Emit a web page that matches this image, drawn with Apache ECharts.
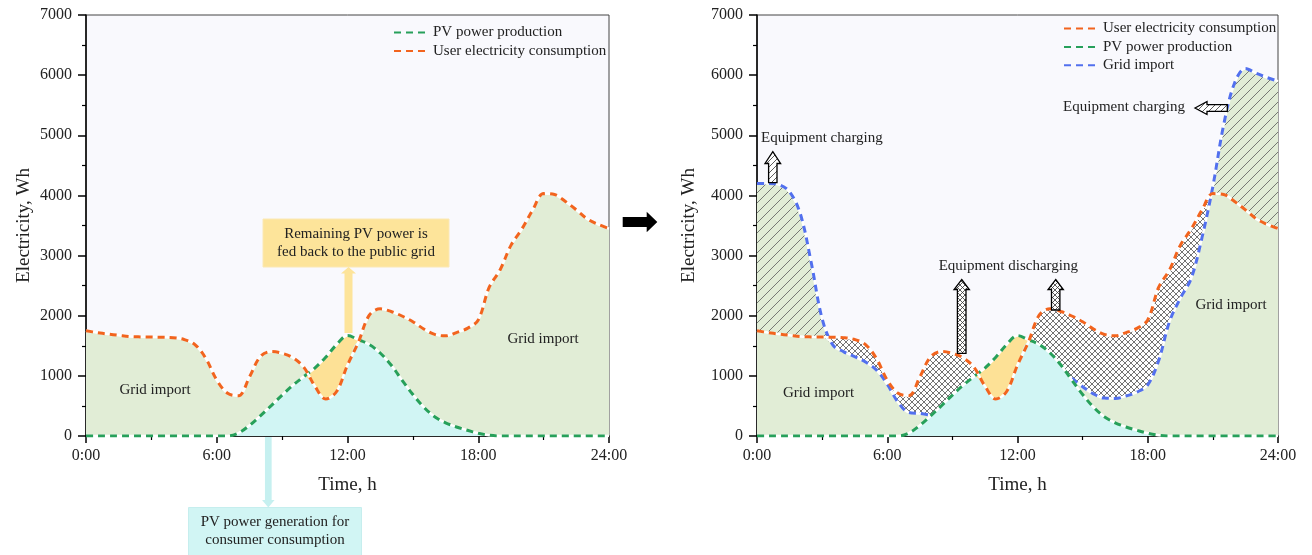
<!DOCTYPE html>
<html>
<head>
<meta charset="utf-8">
<script src="https://cdn.jsdelivr.net/npm/echarts@6/dist/echarts.min.js"></script>
<style>
  html, body { margin: 0; padding: 0; background: #fff; }
  #chart { width: 1312px; height: 555px; }
</style>
</head>
<body>
<div id="chart"></div>
<script>
// Half-hourly profile over one day (hours)
const hours = [0, 0.5, 1, 1.5, 2, 2.5, 3, 3.5, 4, 4.5, 5, 5.5, 6, 6.5, 7, 7.5, 8, 8.5, 9, 9.5,
  10, 10.5, 11, 11.5, 12, 12.5, 13, 13.5, 14, 14.5, 15, 15.5, 16, 16.5, 17, 17.5, 18, 18.5, 19, 19.5,
  20, 20.5, 21, 21.5, 22, 22.5, 23, 23.5, 24];

// User electricity consumption, Wh
const consumption = [1750, 1720, 1695, 1675, 1655, 1648, 1645, 1642, 1635, 1605, 1520, 1290, 930, 710, 670, 980, 1320, 1405, 1375, 1300,
  1140, 830, 615, 740, 1180, 1560, 2010, 2115, 2070, 1995, 1900, 1780, 1690, 1665, 1720, 1790, 1930, 2470, 2760, 3170,
  3440, 3760, 4030, 4015, 3900, 3760, 3610, 3520, 3450];

// PV power production, Wh
const pvProduction = [0, 0, 0, 0, 0, 0, 0, 0, 0, 0, 0, 0, 0, 0, 50, 175, 335, 505, 680, 845,
  990, 1130, 1310, 1520, 1670, 1600, 1520, 1380, 1180, 930, 690, 480, 320, 220, 150, 95, 45, 12, 0, 0,
  0, 0, 0, 0, 0, 0, 0, 0, 0];

// Grid import with storage operating, Wh (not drawn while it runs along the PV curve)
const gridImport = [4200, 4200, 4180, 4060, 3690, 2880, 1950, 1510, 1400, 1320, 1230, 1100, 860, 560, 390, 375, 345, null, null, null,
  null, null, null, null, null, null, null, null, null, 960, 820, 700, 630, 625, 665, 730, 850, 1250, 1900, 2290,
  2620, 3300, 4150, 5180, 5870, 6110, 6030, 5960, 5900];

const timeTickLabels = ['0:00', '6:00', '12:00', '18:00', '24:00'];
const valueTicks = [0, 1000, 2000, 3000, 4000, 5000, 6000, 7000];

const FONT = '"Liberation Serif", "Times New Roman", serif';
const TEXT = '#222';
const C_ORANGE = '#f2641e';
const C_GREEN = '#27a05a';
const C_BLUE = '#5270ee';
const F_GRID = '#e1edd6';
const F_CYAN = '#d1f5f4';
const F_YELLOW = '#fde196';
const PLOT_BG = '#f9f9fd';

function makePattern(bg, size, cross, stroke, lw) {
  const c = document.createElement('canvas');
  c.width = size; c.height = size;
  const g = c.getContext('2d');
  g.fillStyle = bg; g.fillRect(0, 0, size, size);
  g.strokeStyle = stroke; g.lineWidth = lw;
  g.beginPath();
  for (let k = -1; k <= 1; k++) {
    g.moveTo(k * size, size); g.lineTo(k * size + size, 0);
    if (cross) { g.moveTo(k * size, 0); g.lineTo(k * size + size, size); }
  }
  g.stroke();
  return { image: c, repeat: 'repeat' };
}

const hatchGreen = makePattern(F_GRID, 10, false, '#5a5a5a', 0.8);
const crossWhite = makePattern('#ffffff', 6, true, '#454545', 0.75);
const hatchWhite = makePattern('#ffffff', 6, false, '#333', 0.8);
const crossArrow = makePattern('#ffffff', 5, true, '#333', 0.8);

const pair = arr => hours.map((h, i) => [h, arr[i]]);
const SMOOTH = 0.35;

function fill(grid, values, color, z) {
  return {
    type: 'line', xAxisIndex: grid, yAxisIndex: grid, data: pair(values),
    smooth: SMOOTH, symbol: 'none', silent: true, z: z,
    lineStyle: { width: 0, opacity: 0 },
    areaStyle: { color: color, opacity: 1 }
  };
}
function line(grid, name, values, color, z) {
  return [
    { type: 'line', xAxisIndex: grid, yAxisIndex: grid, data: pair(values), smooth: SMOOTH,
      symbol: 'none', silent: true, z: z, lineStyle: { color: '#ffffff', width: 2.4 } },
    { type: 'line', name: name, xAxisIndex: grid, yAxisIndex: grid, data: pair(values), smooth: SMOOTH,
      symbol: 'none', silent: true, z: z + 1, itemStyle: { color: color },
      lineStyle: { color: color, width: 3, type: [7, 5] } }
  ];
}

// fill boundaries built from the series above
const pvUnderLoad = consumption.map((c, i) => Math.min(c, pvProduction[i]));
const importTop = gridImport.map((g, i) => g == null ? pvProduction[i] : g);
const importUnderLoad = gridImport.map((g, i) => g == null ? pvProduction[i] : Math.min(g, consumption[i]));

const series = [
  // left panel
  fill(0, consumption, F_GRID, 1),
  fill(0, pvProduction, F_YELLOW, 1),
  fill(0, pvUnderLoad, F_CYAN, 1),
  ...line(0, 'PV power production', pvProduction, C_GREEN, 3),
  ...line(0, 'User electricity consumption', consumption, C_ORANGE, 5),
  // right panel
  fill(1, importTop, hatchGreen, 1),
  fill(1, consumption, crossWhite, 1),
  fill(1, importUnderLoad, F_GRID, 1),
  fill(1, pvProduction, F_YELLOW, 1),
  fill(1, pvUnderLoad, F_CYAN, 1),
  ...line(1, 'Grid import', gridImport, C_BLUE, 3),
  ...line(1, 'PV power production', pvProduction, C_GREEN, 5),
  ...line(1, 'User electricity consumption', consumption, C_ORANGE, 7)
];

const grids = [
  { left: 86, top: 15, width: 523, height: 421 },
  { left: 757, top: 15, width: 521, height: 421 }
];

function xAxis(i) {
  return {
    type: 'value', gridIndex: i, min: 0, max: 24, interval: 6,
    axisLine: { show: true, onZero: false, lineStyle: { color: '#000', width: 1.5 } },
    axisTick: { show: true, inside: false, length: 7, lineStyle: { color: '#000', width: 1.5 } },
    minorTick: { show: true, splitNumber: 2, length: 4, lineStyle: { color: '#000', width: 1.2 } },
    splitLine: { show: false },
    axisLabel: { margin: 12, fontFamily: FONT, fontSize: 16, color: TEXT,
      formatter: v => timeTickLabels[v / 6] },
    name: 'Time, h', nameLocation: 'middle', nameGap: 40,
    nameTextStyle: { fontFamily: FONT, fontSize: 19, color: TEXT }
  };
}
function yAxis(i, gap) {
  return {
    type: 'value', gridIndex: i, min: valueTicks[0], max: valueTicks[valueTicks.length - 1], interval: 1000,
    axisLine: { show: true, onZero: false, lineStyle: { color: '#000', width: 1.5 } },
    axisTick: { show: true, inside: false, length: 8, lineStyle: { color: '#000', width: 1.5 } },
    minorTick: { show: true, splitNumber: 2, length: 4, lineStyle: { color: '#000', width: 1.2 } },
    splitLine: { show: false },
    axisLabel: { margin: 14, fontFamily: FONT, fontSize: 16, color: TEXT, formatter: v => String(v) },
    name: 'Electricity, Wh', nameLocation: 'middle', nameGap: gap,
    nameTextStyle: { fontFamily: FONT, fontSize: 19, color: TEXT }
  };
}

const legendBase = {
  orient: 'vertical', itemWidth: 34, itemHeight: 10, itemGap: 3.4, padding: 0,
  selectedMode: false, itemStyle: { opacity: 0 },
  textStyle: { fontFamily: FONT, fontSize: 15, color: TEXT }
};

const chart = echarts.init(document.getElementById('chart'), null, { renderer: 'canvas' });
chart.setOption({
  animation: false,
  backgroundColor: '#ffffff',
  grid: grids.map(g => Object.assign({ show: true, backgroundColor: PLOT_BG, borderColor: '#444', borderWidth: 1 }, g)),
  xAxis: [xAxis(0), xAxis(1)],
  yAxis: [yAxis(0, 52), yAxis(1, 58)],
  legend: [
    Object.assign({ data: ['PV power production', 'User electricity consumption'], left: 393, top: 25 }, legendBase),
    Object.assign({ data: ['User electricity consumption', 'PV power production', 'Grid import'], left: 1063, top: 21 }, legendBase)
  ],
  series: series
});

// annotations
function txt(x, y, s, align) {
  return { type: 'text', x: x, y: y, z: 100, silent: true,
    style: { text: s, fill: TEXT, font: '15px ' + FONT, align: align || 'center', verticalAlign: 'middle' } };
}
function upArrow(cx, top, headBottom, bottom, shaftW, headW, fillStyle, stroke) {
  return { type: 'polygon', z: 100, silent: true,
    shape: { points: [[cx, top], [cx + headW / 2, headBottom], [cx + shaftW / 2, headBottom], [cx + shaftW / 2, bottom],
      [cx - shaftW / 2, bottom], [cx - shaftW / 2, headBottom], [cx - headW / 2, headBottom]] },
    style: { fill: fillStyle, stroke: stroke || null, lineWidth: stroke ? 1.3 : 0 } };
}
function downArrow(cx, top, headTop, tip, shaftW, headW, fillStyle) {
  return { type: 'polygon', z: 100, silent: true,
    shape: { points: [[cx - shaftW / 2, top], [cx + shaftW / 2, top], [cx + shaftW / 2, headTop], [cx + headW / 2, headTop],
      [cx, tip], [cx - headW / 2, headTop], [cx - shaftW / 2, headTop]] },
    style: { fill: fillStyle } };
}
function leftArrow(tip, headBase, tail, cy, shaftH, headH, fillStyle) {
  return { type: 'polygon', z: 100, silent: true,
    shape: { points: [[tip, cy], [headBase, cy - headH / 2], [headBase, cy - shaftH / 2], [tail, cy - shaftH / 2],
      [tail, cy + shaftH / 2], [headBase, cy + shaftH / 2], [headBase, cy + headH / 2]] },
    style: { fill: fillStyle, stroke: '#000', lineWidth: 1.3 } };
}
function rightArrow(tail, headBase, tip, cy, shaftH, headH, fillStyle) {
  return { type: 'polygon', z: 100, silent: true,
    shape: { points: [[tail, cy - shaftH / 2], [headBase, cy - shaftH / 2], [headBase, cy - headH / 2], [tip, cy],
      [headBase, cy + headH / 2], [headBase, cy + shaftH / 2], [tail, cy + shaftH / 2]] },
    style: { fill: fillStyle } };
}

chart.setOption({
  graphic: [
    // left panel
    { type: 'rect', z: 100, silent: true, shape: { x: 263, y: 219, width: 186, height: 48 },
      style: { fill: '#fde49a', stroke: '#fbe8b4', lineWidth: 1 } },
    txt(356, 234, 'Remaining PV power is'),
    txt(356, 252.5, 'fed back to the public grid'),
    upArrow(348.5, 267, 273.5, 333, 8, 15, '#fde49a'),
    downArrow(268.3, 437, 500, 507.5, 6.7, 12.5, '#c6f0f0'),
    { type: 'rect', z: 100, silent: true, shape: { x: 188.5, y: 507.5, width: 173, height: 48 },
      style: { fill: '#d1f5f4', stroke: '#c6eeee', lineWidth: 1 } },
    txt(275, 522, 'PV power generation for'),
    txt(275, 540, 'consumer consumption'),
    txt(155, 390, 'Grid import'),
    txt(543, 339.5, 'Grid import'),
    // arrow between panels
    rightArrow(622.7, 646.7, 657.3, 222, 10, 20.5, '#000'),
    // right panel
    txt(761, 138.5, 'Equipment charging', 'left'),
    upArrow(772.8, 151.7, 163.5, 182.7, 8.4, 15.6, hatchWhite, '#000'),
    txt(1124, 107.3, 'Equipment charging'),
    leftArrow(1195, 1207, 1227.3, 108, 6.8, 13, hatchWhite),
    txt(1008.3, 266, 'Equipment discharging'),
    upArrow(961.7, 279.5, 289.5, 353.3, 8.6, 15.3, crossArrow, '#000'),
    upArrow(1055.7, 279.5, 289.5, 310, 8.4, 15.3, crossArrow, '#000'),
    txt(818.5, 393.5, 'Grid import'),
    txt(1231, 305, 'Grid import')
  ]
});
</script>
</body>
</html>
